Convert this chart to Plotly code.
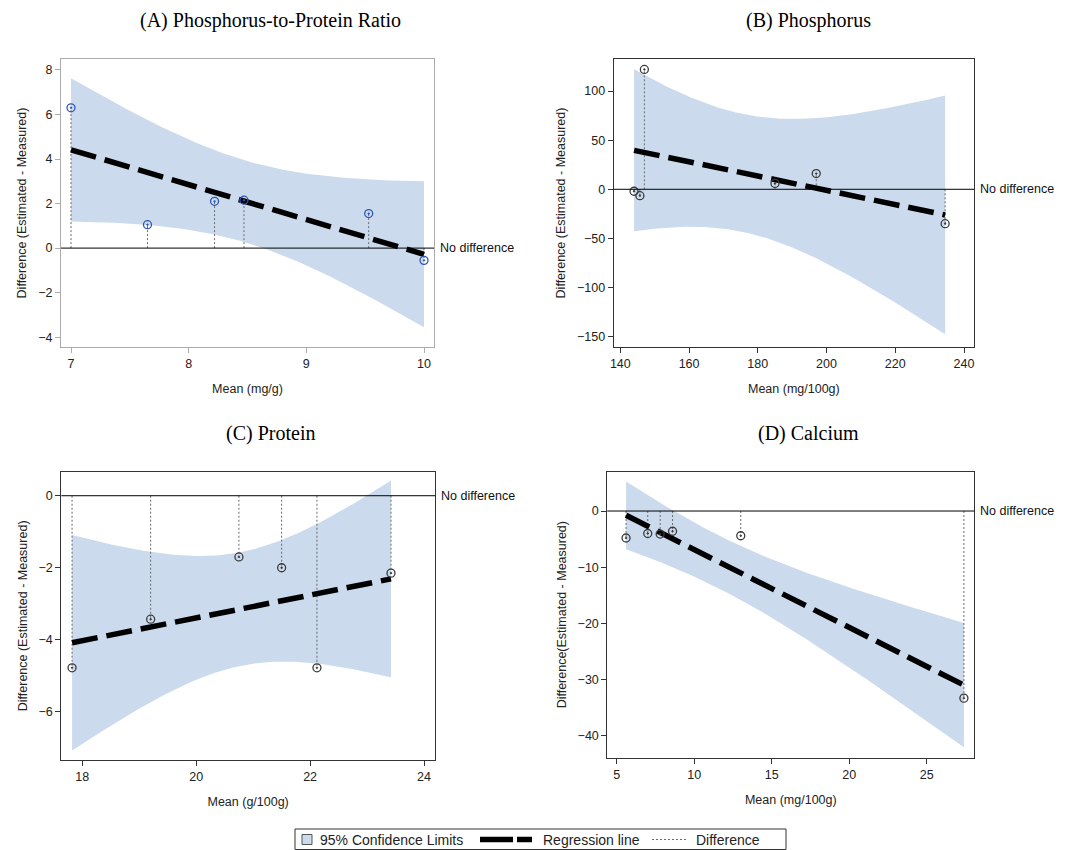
import numpy as np
import plotly.graph_objects as go

# ---------------- data ----------------
A_mean = [7.0, 7.65, 8.22, 8.47, 9.53, 10.0]
A_diff = [6.3, 1.05, 2.1, 2.15, 1.55, -0.55]
B_mean = [144.0, 145.7, 147.0, 185.0, 197.0, 234.5]
B_diff = [-2.0, -6.5, 122.0, 6.0, 16.0, -35.0]
C_mean = [17.82, 19.2, 20.75, 21.5, 22.12, 23.42]
C_diff = [-4.78, -3.43, -1.7, -2.0, -4.78, -2.15]
D_mean = [5.6, 7.0, 7.8, 8.6, 13.0, 27.4]
D_diff = [-4.8, -4.0, -4.1, -3.6, -4.4, -33.3]

titles = ["(A) Phosphorus-to-Protein Ratio", "(B) Phosphorus", "(C) Protein", "(D) Calcium"]
x_titles = ["Mean (mg/g)", "Mean (mg/100g)", "Mean (g/100g)", "Mean (mg/100g)"]
y_titles = ["Difference (Estimated - Measured)", "Difference (Estimated - Measured)",
            "Difference (Estimated - Measured)", "Difference(Estimated - Measured)"]
x_ticks = [[7, 8, 9, 10], [140, 160, 180, 200, 220, 240], [18, 20, 22, 24], [5, 10, 15, 20, 25]]
y_ticks = [[-4, -2, 0, 2, 4, 6, 8], [-150, -100, -50, 0, 50, 100], [-6, -4, -2, 0], [-40, -30, -20, -10, 0]]
legend_labels = ["95% Confidence Limits", "Regression line", "Difference"]

T_975_DF4 = 2.776445  # t quantile for n-2 = 4 degrees of freedom

W, H = 1077, 850
OFF = 8  # page body margin: figure origin sits at (8, 8) in the page

def px(xp):
    return (xp - OFF) / W

def py(yp):
    return 1 - (yp - OFF) / H

# plot frames in page pixels: (left, right, top, bottom)
frames = [(61, 434, 59, 347), (613.7, 974, 59.3, 346.7), (61.3, 435, 471.7, 760), (607.3, 974.3, 471.7, 757.7)]
title_pos = [(270, 21), (808, 21), (270, 433), (808, 433)]
x_ranges = [(6.915, 10.085), (138.08, 242.9), (17.631, 24.193), (4.39, 28.07)]
y_ranges = [(-4.44, 8.49), (-160.2, 132.3), (-7.34, 0.667), (-43.9, 7.0)]
marker_colors = ["#2f55b5", "#3a3a3a", "#3a3a3a", "#3a3a3a"]
frame_colors = ["#ababab", "#333333", "#333333", "#333333"]
band_color = "rgb(203,218,236)"
FONT = "Liberation Sans, Arial"

datasets = [(A_mean, A_diff), (B_mean, B_diff), (C_mean, C_diff), (D_mean, D_diff)]

fig = go.Figure()
annotations = []
shapes = []

for i, (xm, yd) in enumerate(datasets):
    xa = "x" if i == 0 else f"x{i+1}"
    ya = "y" if i == 0 else f"y{i+1}"
    x = np.array(xm)
    y = np.array(yd)
    n = len(x)
    slope, intercept = np.polyfit(x, y, 1)
    resid = y - (slope * x + intercept)
    s = np.sqrt(np.sum(resid ** 2) / (n - 2))
    sxx = np.sum((x - x.mean()) ** 2)
    grid = np.linspace(x.min(), x.max(), 120)
    fit = slope * grid + intercept
    half = T_975_DF4 * s * np.sqrt(1.0 / n + (grid - x.mean()) ** 2 / sxx)
    upper = fit + half
    lower = fit - half

    # confidence band
    fig.add_trace(go.Scatter(
        x=np.concatenate([grid, grid[::-1]]), y=np.concatenate([upper, lower[::-1]]),
        fill="toself", fillcolor=band_color, line=dict(width=0, color=band_color),
        mode="lines", hoverinfo="skip", name=legend_labels[0], xaxis=xa, yaxis=ya))
    # difference drop lines
    dx, dy = [], []
    for xi, yi in zip(xm, yd):
        dx += [xi, xi, None]
        dy += [0, yi, None]
    fig.add_trace(go.Scatter(
        x=dx, y=dy, mode="lines", line=dict(color="#6a6a6a", width=1, dash="2px,2px"),
        name=legend_labels[2], xaxis=xa, yaxis=ya, hoverinfo="skip"))
    # regression line
    fig.add_trace(go.Scatter(
        x=[x.min(), x.max()], y=[slope * x.min() + intercept, slope * x.max() + intercept],
        mode="lines", line=dict(color="black", width=5.5, dash="26px,9px"),
        name=legend_labels[1], xaxis=xa, yaxis=ya))
    # points
    fig.add_trace(go.Scatter(
        x=xm, y=yd, mode="markers", name="Difference values",
        marker=dict(symbol="circle-open-dot", size=8, color=marker_colors[i], line=dict(width=1.3)),
        xaxis=xa, yaxis=ya))

    l, r, t, b = frames[i]
    xdom = [px(l), px(r)]
    ydom = [py(b), py(t)]
    axis_common = dict(showline=True, mirror=True, linewidth=1, linecolor=frame_colors[i],
                       ticks="outside", ticklen=5, tickcolor=frame_colors[i], showgrid=False,
                       zeroline=False, automargin=False,
                       tickfont=dict(family=FONT, size=12.5, color="#222"))
    fig.layout[xa.replace("x", "xaxis")] = dict(
        domain=xdom, range=list(x_ranges[i]), anchor=ya, tickvals=x_ticks[i],
        title=dict(text=x_titles[i], font=dict(family=FONT, size=12.5, color="#222"), standoff=14),
        **axis_common)
    fig.layout[ya.replace("y", "yaxis")] = dict(
        domain=ydom, range=list(y_ranges[i]), anchor=xa, tickvals=y_ticks[i],
        title=dict(text=y_titles[i], font=dict(family=FONT, size=12.5, color="#222"), standoff=8),
        **axis_common)

    # no difference line and label
    shapes.append(dict(type="line", xref=f"{xa} domain", yref=ya, x0=0, x1=1, y0=0, y1=0,
                       line=dict(color="black", width=1), layer="above"))
    annotations.append(dict(text="No difference", xref=f"{xa} domain", yref=ya, x=1.01, y=0,
                            xanchor="left", yanchor="middle", showarrow=False,
                            font=dict(family=FONT, size=12.5, color="#111")))
    # panel title
    tx, ty = title_pos[i]
    annotations.append(dict(text=titles[i], xref="paper", yref="paper", x=px(tx), y=py(ty),
                            xanchor="center", yanchor="middle", showarrow=False,
                            font=dict(family="Liberation Serif, Times New Roman", size=20, color="black")))

# ---------------- legend (drawn at the bottom, framed) ----------------
LY = 839.5
shapes.append(dict(type="rect", xref="paper", yref="paper", x0=px(295), x1=px(786), y0=py(849.5), y1=py(829),
                   line=dict(color="#333", width=1), fillcolor="white", layer="above"))
shapes.append(dict(type="rect", xref="paper", yref="paper", x0=px(302), x1=px(312), y0=py(844.5), y1=py(834.5),
                   line=dict(color="#555", width=1), fillcolor=band_color, layer="above"))
shapes.append(dict(type="line", xref="paper", yref="paper", x0=px(480), x1=px(532), y0=py(LY), y1=py(LY),
                   line=dict(color="black", width=5.5, dash="33px,4px"), layer="above"))
shapes.append(dict(type="line", xref="paper", yref="paper", x0=px(652), x1=px(688), y0=py(LY), y1=py(LY),
                   line=dict(color="#6a6a6a", width=1, dash="2px,2px"), layer="above"))
for label, lx in zip(legend_labels, [318, 541, 694]):
    annotations.append(dict(text=label, xref="paper", yref="paper", x=px(lx), y=py(LY),
                            xanchor="left", yanchor="middle", showarrow=False,
                            font=dict(family=FONT, size=14, color="#222")))

fig.update_layout(
    width=W, height=H, margin=dict(l=0, r=0, t=0, b=0),
    plot_bgcolor="white", paper_bgcolor="white", showlegend=False,
    shapes=shapes, annotations=annotations,
)

fig.write_html("out.html")
